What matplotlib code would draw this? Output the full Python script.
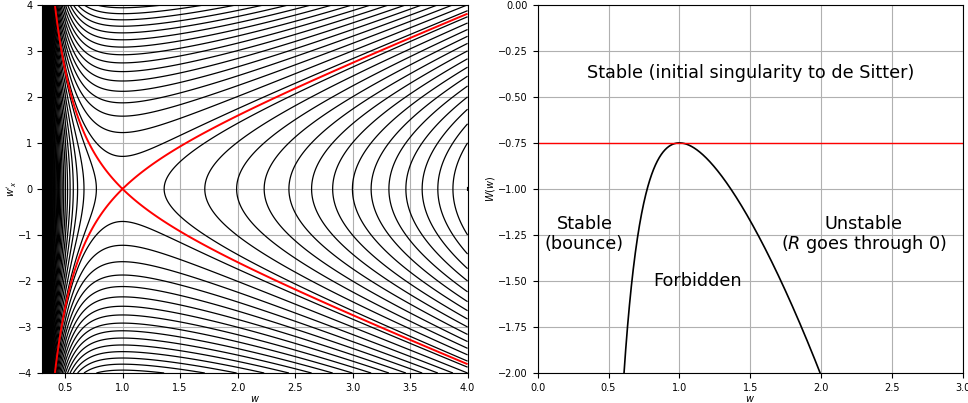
import numpy as np
import matplotlib.pyplot as plt

# potential W(w) = -quad * w^2 - inv4 / w^4, energy H = w'^2/2 + W(w)
quad = 0.5
inv4 = 0.25
separatrix_level = -0.75
level_step = 0.5
level_lo, level_hi = -35.0, 7.5

phase_w_lim = (0.3, 4.0)
phase_wp_lim = (-4.0, 4.0)
pot_w_lim = (0.0, 3.0)
pot_W_lim = (-2.0, 0.0)

region_labels = ['Stable (initial singularity to de Sitter)',
                 'Stable\n(bounce)',
                 'Forbidden',
                 'Unstable\n($R$ goes through 0)']


def W(w):
    return -quad * w**2 - inv4 / w**4


plt.rcParams['contour.negative_linestyle'] = 'solid'

fig, (ax1, ax2) = plt.subplots(1, 2, figsize=(9.68, 4.03), dpi=100)
plt.subplots_adjust(left=0.0434, right=0.995, bottom=0.0744, top=0.988, wspace=0.1645)

# phase portrait
w = np.geomspace(phase_w_lim[0], phase_w_lim[1], 4000)
wp = np.linspace(phase_wp_lim[0], phase_wp_lim[1], 801)
Wg, WPg = np.meshgrid(w, wp)
H = 0.5 * WPg**2 + W(Wg)

levels = np.arange(level_lo, level_hi, level_step)
ax1.contour(Wg, WPg, H, levels=levels, colors='k', linewidths=0.9)
ax1.contour(Wg, WPg, H, levels=[separatrix_level], colors='r', linewidths=1.4)
ax1.set_xlim(*phase_w_lim)
ax1.set_ylim(*phase_wp_lim)
ax1.set_xlabel('$w$', fontsize=7, labelpad=1)
ax1.set_ylabel("$w'_x$", fontsize=7, labelpad=-1)
ax1.tick_params(labelsize=7)
ax1.grid(True)

# potential
ww = np.linspace(0.05, 3.0, 2000)
ax2.plot(ww, W(ww), color='k', lw=1.2)
ax2.axhline(separatrix_level, color='r', lw=1.0)
ax2.set_xlim(*pot_w_lim)
ax2.set_ylim(*pot_W_lim)
ax2.set_xlabel('$w$', fontsize=7, labelpad=1)
ax2.set_ylabel('$W(w)$', fontsize=7, labelpad=1)
ax2.tick_params(labelsize=7)
ax2.grid(True)

fs = 12.7
ax2.text(1.5, -0.37, region_labels[0], ha='center', va='center', fontsize=fs)
ax2.text(0.33, -1.245, region_labels[1], ha='center', va='center', fontsize=fs)
ax2.text(1.125, -1.5, region_labels[2], ha='center', va='center', fontsize=fs)
ax2.text(2.3, -1.25, region_labels[3], ha='center', va='center', fontsize=fs,
         linespacing=1.0)

plt.savefig('out.png', dpi=100)
